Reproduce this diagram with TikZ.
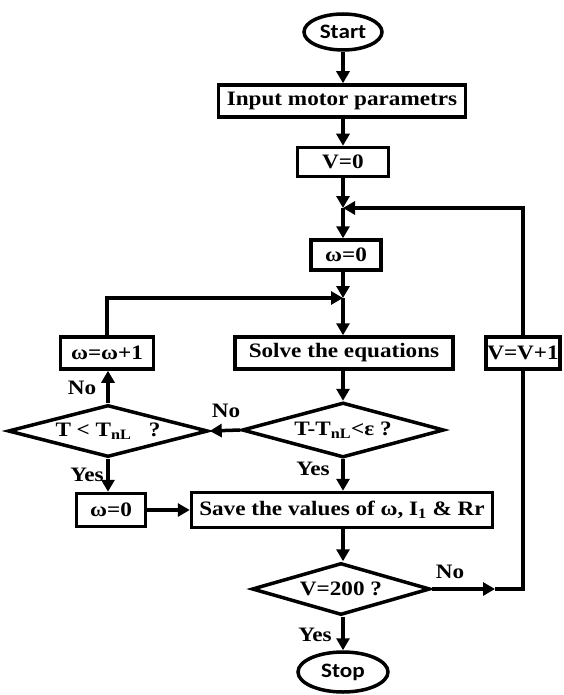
\documentclass[tikz,border=0pt]{standalone}
\usepackage{fontspec}
\setmainfont{Liberation Serif}[FakeStretch=1.13]
\newfontfamily\termfont{Carlito}[FakeStretch=1.13]
\usetikzlibrary{arrows.meta,shapes.geometric}
\begin{document}
\begin{tikzpicture}[x=1pt,y=-1pt,
  every node/.style={text=black},
  txt/.style={font=\fontsize{20.5}{22}\selectfont\bfseries},
  box/.style={txt,draw,line width=3.5pt,inner sep=0pt},
  term/.style={draw,ellipse,line width=3.5pt,inner sep=0pt,font=\termfont\fontsize{20.5}{22}\selectfont\bfseries},
  dec/.style={txt,draw,diamond,aspect=4,line width=3.5pt,inner sep=0pt},
  lbl/.style={txt},
  line/.style={line width=3.5pt},
  arr/.style={line width=3.5pt,-{Triangle[length=12pt,width=13pt]}}]
\useasboundingbox (0,0) rectangle (563,695);

\node[term,minimum width=78pt,minimum height=36pt] (start) at (343,32) {Start};
\node[box,minimum width=247pt,minimum height=32pt] (inp) at (342,101) {Input motor parametrs};
\node[box,minimum width=91pt,minimum height=29pt] (v0) at (343,162) {V=0};
\coordinate (m1) at (343,208);
\node[box,minimum width=70pt,minimum height=30pt] (w0) at (346,255) {ω=0};
\coordinate (m2) at (343,298);
\node[box,minimum width=218pt,minimum height=32pt] (solve) at (344,353) {Solve the equations};
\node[box,minimum width=93pt,minimum height=32pt] (wpp) at (107,353) {ω=ω+1};
\node[box,minimum width=74pt,minimum height=32pt] (vv1) at (523,353) {V=V+1};
\node[dec,minimum width=202pt,minimum height=55pt] (dR) at (343,430) {T-T\textsubscript{nL}<ε ?};
\node[dec,minimum width=200pt,minimum height=52pt] (dL) at (108,431) {T < T\textsubscript{nL}\ \ \ ?};
\node[box,minimum width=69pt,minimum height=33pt] (w0b) at (111,510) {ω=0};
\node[box,minimum width=301pt,minimum height=35pt] (save) at (342,510) {Save the values of ω, I\textsubscript{1} \& Rr};
\node[dec,minimum width=178pt,minimum height=52pt] (d200) at (341,589) {V=200 ?};
\node[term,minimum width=90pt,minimum height=40pt] (stop) at (343,672) {Stop};
\coordinate (c1) at (495,589);

\draw[arr] (start) -- (start |- inp.north);
\draw[arr] (start |- inp.south) -- (start |- v0.north);
\draw[arr] (m1 |- v0.south) -- (m1);
\draw[arr] (m1) -- (m1 |- w0.north);
\draw[arr] (m1 |- w0.south) -- (m2);
\draw[arr] (m2) -- (m2 |- solve.north);
\draw[arr] (m2 |- solve.south) -- (m2 |- dR.north);
\draw[arr] (dR.west) -- (dL.east);
\draw[arr] (dL.north) -- (dL.north |- wpp.south);
\draw[arr] (wpp.north) |- (m2);
\draw[arr] (dL.south) -- (dL.south |- w0b.north);
\draw[arr] (w0b) -- (save);
\draw[arr] (dR.south) -- (dR.south |- save.north);
\draw[arr] (m1 |- save.south) -- (m1 |- d200.north);
\draw[arr] (m1 |- d200.south) -- (m1 |- stop.north);
\draw[arr] (d200.east) -- (c1);
\draw[line] (c1) -| (vv1.south);
\draw[arr] (vv1.north) |- (m1);

\node[lbl] (l1) at (82,388) {No};
\node[lbl] (l2) at (87,475) {Yes};
\node[lbl] (l3) at (226,411) {No};
\node[lbl] (l4) at (313,469) {Yes};
\node[lbl] (l5) at (450,572) {No};
\node[lbl] (l6) at (315,635) {Yes};
\end{tikzpicture}
\end{document}
